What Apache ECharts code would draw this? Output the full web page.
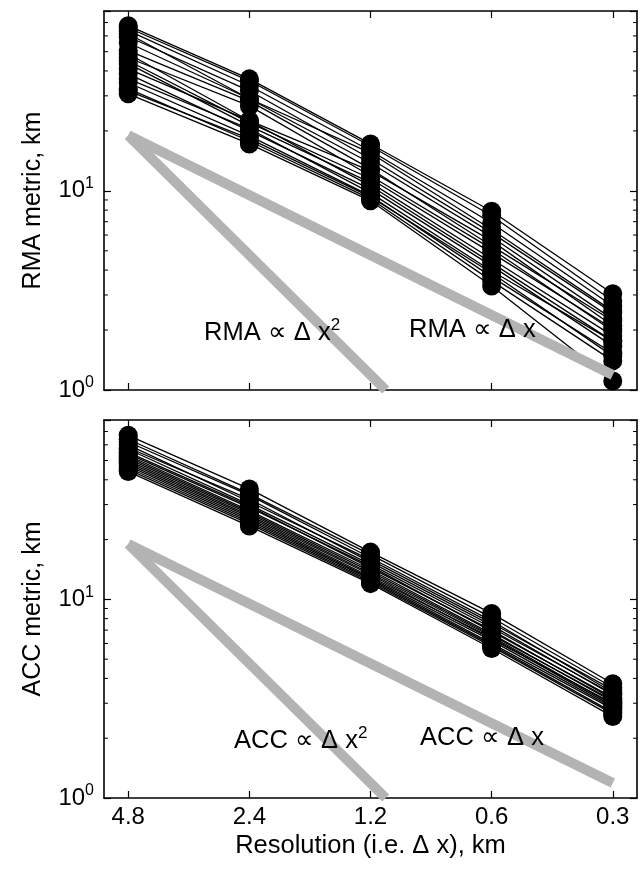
<!DOCTYPE html>
<html>
<head>
<meta charset="utf-8">
<script src="https://cdn.jsdelivr.net/npm/echarts@6/dist/echarts.min.js"></script>
<style>
html,body{margin:0;padding:0;background:#fff;}
#chart{width:642px;height:869px;}
</style>
</head>
<body>
<div id="chart"></div>
<script>
// ---- data ----
const resolutions = [4.8, 2.4, 1.2, 0.6, 0.3];
const resLabels = ['4.8', '2.4', '1.2', '0.6', '0.3'];

const rmaLines = [
  [67.5, 36.5, 17.2, 7.9, 3.04],
  [65.9, 35.7, 16.8, 7.5, 2.80],
  [63.7, 33.7, 15.9, 6.9, 2.64],
  [61.5, 29.0, 15.5, 6.4, 2.49],
  [59.4, 31.8, 14.5, 6.15, 2.44],
  [55.4, 29.0, 13.8, 5.87, 2.27],
  [50.6, 28.3, 12.9, 5.29, 2.22],
  [48.8, 22.5, 12.6, 5.61, 2.10],
  [46.6, 26.7, 11.9, 5.11, 1.98],
  [45.0, 22.0, 11.5, 4.88, 2.03],
  [43.5, 21.2, 11.0, 4.55, 1.87],
  [41.0, 22.5, 10.6, 4.35, 1.76],
  [38.7, 20.0, 10.2, 4.20, 1.66],
  [36.5, 20.5, 9.77, 3.96, 1.76],
  [34.9, 18.9, 9.44, 3.70, 1.53],
  [32.6, 17.8, 9.12, 3.53, 1.40],
  [30.7, 17.2, 8.91, 3.33, 1.11],
  [31.8, 18.3, 9.33, 3.87, 1.48]
];

const accLines = [
  [67, 36, 17.3, 8.5, 3.76],
  [64, 34, 16.8, 8.1, 3.6],
  [62, 33.5, 16.2, 7.8, 3.4],
  [60, 31, 15.8, 7.6, 3.5],
  [58, 32, 15.4, 7.4, 3.3],
  [57, 30, 15.0, 7.2, 3.35],
  [55, 29.5, 14.4, 7.0, 3.15],
  [54, 29, 14.7, 6.9, 3.2],
  [53, 28, 14.1, 6.7, 3.05],
  [52, 27.5, 13.8, 6.6, 3.1],
  [51, 27, 13.5, 6.5, 2.95],
  [50, 26.5, 13.3, 6.3, 3.0],
  [49, 26, 13.0, 6.4, 2.9],
  [48, 25.5, 12.8, 6.2, 2.85],
  [47, 25, 12.6, 6.0, 2.8],
  [46, 24.5, 12.4, 5.9, 2.7],
  [45, 24, 12.2, 5.8, 2.65],
  [44, 23.4, 12.0, 5.66, 2.57]
];

// reference slopes: [resolution, value] end points
const refLinearRes = [4.8, 0.3];
const refLinearVal = [19, 1.19];
const refQuadRes = [4.8, 1.1];
const refQuadVal = [19, 1];

const yMin = 1, yMax = 80;
const minorTickValues = [2, 3, 4, 5, 6, 7, 8, 9, 20, 30, 40, 50, 60, 70];

// ---- helpers ----
const FONT = "'Liberation Sans', Arial, Helvetica, sans-serif";
// position on the (log2, reversed) resolution axis
const toPos = r => Math.log2(resolutions[0] / r);
const xMin = -0.2, xMax = toPos(resolutions[resolutions.length - 1]) + 0.2;
const tickPos = resolutions.map(toPos);
const AXW = 1.6;

const chart = echarts.init(document.getElementById('chart'), null, {renderer: 'canvas'});

function xAxes(gridIndex, showLabels) {
  const base = {
    type: 'value', gridIndex, min: xMin, max: xMax,
    splitLine: {show: false},
    axisLine: {show: true, onZero: false, lineStyle: {color: '#000', width: AXW}},
  };
  return [
    Object.assign({}, base, {
      position: 'bottom',
      axisTick: {show: true, inside: true, length: 7, customValues: tickPos, lineStyle: {color: '#000', width: 1.2}},
      axisLabel: showLabels ? {
        show: true, customValues: tickPos, margin: 7,
        fontSize: 24, fontFamily: FONT, color: '#000',
        formatter: v => { const i = tickPos.findIndex(p => Math.abs(p - v) < 1e-6); return i >= 0 ? resLabels[i] : ''; }
      } : {show: false},
      name: showLabels ? 'Resolution (i.e. \u0394 x), km' : '',
      nameLocation: 'middle', nameGap: 35,
      nameTextStyle: {fontSize: 25.5, fontFamily: FONT, color: '#000'}
    }),
    Object.assign({}, base, {
      position: 'top',
      axisTick: {show: true, inside: true, length: 7, customValues: tickPos, lineStyle: {color: '#000', width: 1.2}},
      axisLabel: {show: false}
    })
  ];
}

function yAxes(gridIndex, name) {
  const base = {
    type: 'log', logBase: 10, gridIndex, min: yMin, max: yMax,
    splitLine: {show: false}, minorTick: {show: false},
    axisLine: {show: true, onZero: false, lineStyle: {color: '#000', width: AXW}},
    axisTick: {show: true, inside: true, length: 7, lineStyle: {color: '#000', width: 1.2}}
  };
  return [
    Object.assign({}, base, {
      position: 'left',
      axisLabel: {
        show: true, margin: 10, fontSize: 24, fontFamily: FONT, color: '#000',
        formatter: v => {
          const e = Math.log10(v);
          return Math.abs(e - Math.round(e)) < 1e-6 ? '10{s|' + Math.round(e) + '}' : '';
        },
        rich: {s: {fontSize: 16, fontFamily: FONT, color: '#000', padding: [0, 0, 14, 0]}}
      },
      name, nameLocation: 'middle', nameRotate: 90, nameGap: 58,
      nameTextStyle: {fontSize: 25, fontFamily: FONT, color: '#000'}
    }),
    Object.assign({}, base, {position: 'right', axisLabel: {show: false}})
  ];
}

function panelSeries(lines, gridIdx) {
  const xi = gridIdx * 2, yi = gridIdx * 2;
  const out = lines.map(vals => ({
    type: 'line', xAxisIndex: xi, yAxisIndex: yi,
    data: vals.map((v, i) => [tickPos[i], v]),
    symbol: 'circle', symbolSize: 19, showSymbol: true,
    lineStyle: {color: '#000', width: 1.3},
    itemStyle: {color: '#000'},
    silent: true, z: 3
  }));
  out.push({
    type: 'line', xAxisIndex: xi, yAxisIndex: yi,
    data: refLinearRes.map((r, i) => [toPos(r), refLinearVal[i]]),
    symbol: 'none', lineStyle: {color: '#b3b3b3', width: 10, cap: 'butt'}, z: 4, silent: true
  });
  out.push({
    type: 'line', xAxisIndex: xi, yAxisIndex: yi,
    data: refQuadRes.map((r, i) => [toPos(r), refQuadVal[i]]),
    symbol: 'none', lineStyle: {color: '#b3b3b3', width: 10, cap: 'butt'}, z: 4, silent: true
  });
  // minor ticks (log decades 2..9) on both sides
  out.push({
    type: 'custom', xAxisIndex: xi, yAxisIndex: yi, silent: true, z: 5,
    data: minorTickValues.map(v => [xMin, v]),
    clip: false,
    renderItem: (params, api) => {
      const v = api.value(1);
      const pL = api.coord([xMin, v]);
      const pR = api.coord([xMax, v]);
      return {
        type: 'group', children: [
          {type: 'line', shape: {x1: pL[0], y1: pL[1], x2: pL[0] + 4, y2: pL[1]}, style: {stroke: '#000', lineWidth: 1}},
          {type: 'line', shape: {x1: pR[0] - 4, y1: pR[1], x2: pR[0], y2: pR[1]}, style: {stroke: '#000', lineWidth: 1}}
        ]
      };
    }
  });
  return out;
}

function annot(left, top, main) {
  return {
    type: 'text', left, top, z: 100,
    style: {
      text: main, rich: {s: {fontSize: 17, fontFamily: FONT, fill: '#000', padding: [0, 0, 15, 0]}},
      font: '25.5px ' + FONT, fill: '#000'
    }
  };
}

const option = {
  animation: false,
  backgroundColor: '#fff',
  grid: [
    {left: 104, right: 5, top: 11, height: 379, containLabel: false},
    {left: 104, right: 5, top: 420, height: 378, containLabel: false}
  ],
  xAxis: [...xAxes(0, false), ...xAxes(1, true)],
  yAxis: [...yAxes(0, 'RMA metric, km'), ...yAxes(1, 'ACC metric, km')],
  series: [...panelSeries(rmaLines, 0), ...panelSeries(accLines, 1)],
  graphic: [
    annot(204, 317, 'RMA \u221D \u0394 x{s|2}'),
    annot(409, 317, 'RMA \u221D \u0394 x'),
    annot(234, 725, 'ACC \u221D \u0394 x{s|2}'),
    annot(420, 725, 'ACC \u221D \u0394 x')
  ]
};
chart.setOption(option);
</script>
</body>
</html>
